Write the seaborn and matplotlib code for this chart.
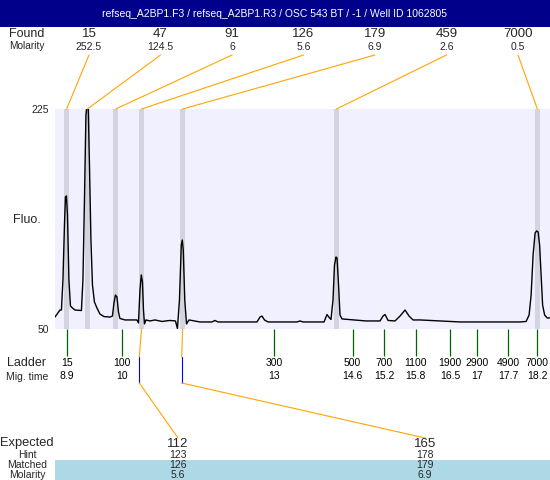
import matplotlib
matplotlib.use("Agg")
import matplotlib.pyplot as plt
from matplotlib.patches import Rectangle
import numpy as np
import pandas as pd
import seaborn as sns

# ---------------- data ----------------
title = "refseq_A2BP1.F3 / refseq_A2BP1.R3 / OSC 543 BT / -1 / Well ID 1062805"

trace_time = [
    8.669, 8.768, 8.797, 8.827, 8.857, 8.876, 8.896, 8.916, 8.945, 8.975,
    9.015, 9.064, 9.192, 9.222, 9.252, 9.281, 9.295, 9.327, 9.351, 9.380,
    9.410, 9.449, 9.499, 9.558, 9.637, 9.756, 9.805, 9.835, 9.864, 9.894,
    9.924, 9.953, 10.052, 10.289, 10.319, 10.349, 10.375, 10.398, 10.418, 10.438,
    10.467, 10.546, 10.645, 10.783, 10.941, 11.050, 11.089, 11.129, 11.165, 11.185,
    11.204, 11.234, 11.268, 11.317, 11.534, 11.772, 11.831, 11.890, 12.661, 12.720,
    12.760, 12.809, 12.878, 13.451, 13.511, 13.570, 13.787, 13.985, 14.044, 14.093,
    14.123, 14.163, 14.192, 14.222, 14.242, 14.272, 14.301, 14.341, 14.815, 15.092,
    15.151, 15.191, 15.250, 15.388, 15.487, 15.586, 15.665, 15.744, 15.883, 16.278,
    16.674, 17.069, 17.464, 17.859, 17.978, 18.037, 18.077, 18.116, 18.156, 18.185,
    18.215, 18.245, 18.274, 18.304, 18.344, 18.393, 18.452,
]
trace_fluo = [
    59.5, 65.1, 65.1, 89.0, 132.7, 155.0, 155.8, 140.7, 89.0, 68.3,
    66.7, 65.1, 64.7, 89.0, 152.6, 220.2, 225.0, 225.0, 180.5, 120.8,
    85.0, 71.5, 66.7, 61.9, 59.9, 59.5, 60.3, 70.7, 77.0, 75.5,
    63.5, 58.4, 57.2, 57.2, 54.8, 81.0, 93.0, 87.4, 65.1, 54.0,
    57.2, 56.4, 57.2, 56.0, 56.8, 56.4, 50.4, 73.1, 116.8, 120.8,
    112.8, 73.1, 54.0, 57.2, 55.6, 55.6, 56.8, 55.6, 55.6, 59.5,
    60.3, 57.2, 55.6, 55.6, 56.4, 55.6, 55.6, 55.6, 61.5, 58.8,
    57.6, 73.1, 100.9, 107.3, 106.5, 85.0, 61.1, 58.0, 56.4, 56.4,
    60.3, 61.5, 56.8, 56.4, 60.3, 65.1, 60.3, 57.2, 57.2, 56.4,
    55.6, 55.6, 55.6, 55.6, 56.0, 61.1, 77.0, 108.9, 126.4, 128.0,
    127.2, 116.8, 93.0, 69.1, 61.1, 58.8, 58.8,
]

found_size = ["15", "47", "91", "126", "179", "459", "7000"]
found_molarity = ["252.5", "124.5", "6", "5.6", "6.9", "2.6", "0.5"]
found_time = [8.90, 9.31, 9.87, 10.38, 11.19, 14.23, 18.20]

ladder_size = ["15", "100", "300", "500", "700", "1100", "1900", "2900", "4900", "7000"]
ladder_mig = ["8.9", "10", "13", "14.6", "15.2", "15.8", "16.5", "17", "17.7", "18.2"]
ladder_time = [8.9, 10.0, 13.0, 14.55, 15.17, 15.8, 16.48, 17.0, 17.62, 18.2]

expected_size = ["112", "165"]
hint_size = ["123", "178"]
matched_size = ["126", "179"]
matched_molarity = ["5.6", "6.9"]
matched_found_time = [10.38, 11.19]
hint_time = [10.335, 11.173]

y_min, y_max = 50, 225
t_min, t_max = 8.67, 18.45

# ---------------- figure ----------------
sns.set_theme(style="white")
plt.rcParams['font.family'] = ['Liberation Sans', 'DejaVu Sans']

W, H = 550, 480
fig = plt.figure(figsize=(W / 100, H / 100), dpi=100)
fig.patch.set_facecolor('white')

ax = fig.add_axes([55 / W, 1 - 329 / H, 495 / W, 220 / H])
ax.set_facecolor('#F0F0FE')
for t in found_time:
    ax.axvspan(t - 0.05, t + 0.05, color='#D4D4E0', lw=0, zorder=1)

df = pd.DataFrame({'time': trace_time, 'fluo': trace_fluo})
sns.lineplot(data=df, x='time', y='fluo', ax=ax, color='black', lw=1.0,
             sort=False, estimator=None, zorder=3)
ax.set_xlim(t_min, t_max)
ax.set_ylim(y_min, y_max)
ax.set_xlabel('')
ax.set_ylabel('')
for s in ax.spines.values():
    s.set_visible(False)
ax.set_yticks([y_min, y_max])
ax.set_yticklabels([str(y_min), str(y_max)], fontsize=7.5)
ax.tick_params(axis='y', length=0, pad=4.3, left=False)
ax.set_xticks(ladder_time)
ax.set_xticklabels([f"{a}\n{b}" for a, b in zip(ladder_size, ladder_mig)],
                   fontsize=7.5, linespacing=1.35)
ax.tick_params(axis='x', bottom=True, length=19.4, width=0.9, color='#006400',
               direction='out', pad=1.5, labelcolor='black')

# overlay in pixel coordinates
ov = fig.add_axes([0, 0, 1, 1], zorder=5)
ov.set_xlim(0, W)
ov.set_ylim(H, 0)
ov.axis('off')


def to_px(t, v):
    d = ax.transData.transform((t, v))
    return ov.transData.inverted().transform(d)


# title bar
ov.add_patch(Rectangle((0, 0), W, 27, color='#00008B', lw=0))
ov.text(W / 2, 14, title, color='white', ha='center', va='center', fontsize=7.5)

# found row
col_x = np.linspace(89, 518, len(found_size))
ov.text(27, 34, "Found", ha='center', va='center', fontsize=9)
ov.text(27, 46, "Molarity", ha='center', va='center', fontsize=7.3)
for x, s, m, t in zip(col_x, found_size, found_molarity, found_time):
    ov.text(x, 34, s, ha='center', va='center', fontsize=9.5)
    ov.text(x, 46.5, m, ha='center', va='center', fontsize=7.5)
    bx, by = to_px(t, y_max)
    ov.plot([x, bx], [55, by], color='orange', lw=0.8)

# side labels
ov.text(27, 220, "Fluo.", ha='center', va='center', fontsize=9)
ov.text(27, 363, "Ladder", ha='center', va='center', fontsize=9)
ov.text(27, 377, "Mig. time", ha='center', va='center', fontsize=7.5)

# bottom table
ov.add_patch(Rectangle((55, 460), W - 55, 20, color='#ADD8E6', lw=0))
ov.text(27, 443, "Expected", ha='center', va='center', fontsize=9.3)
ov.text(27, 455, "Hint", ha='center', va='center', fontsize=7.5)
ov.text(27, 465, "Matched", ha='center', va='center', fontsize=7.5)
ov.text(27, 474.5, "Molarity", ha='center', va='center', fontsize=7.5)

exp_x = [178, 425]
for ex, e, h, m, mm, ft, ht in zip(exp_x, expected_size, hint_size, matched_size,
                                    matched_molarity, matched_found_time, hint_time):
    x0, y0 = to_px(ft, y_min)
    x1, _ = to_px(ht, y_min)
    ov.plot([x0, x1], [y0, 357], color='orange', lw=0.8)
    ov.plot([x1, x1], [357, 383], color='blue', lw=0.8)
    ov.plot([x1, ex], [383, 438], color='orange', lw=0.8)
    ov.text(ex, 444, e, ha='center', va='center', fontsize=9.5)
    ov.text(ex, 455, h, ha='center', va='center', fontsize=7.5)
    ov.text(ex, 465, m, ha='center', va='center', fontsize=7.5)
    ov.text(ex, 474.5, mm, ha='center', va='center', fontsize=7.5)

fig.savefig("out.png", dpi=100)
